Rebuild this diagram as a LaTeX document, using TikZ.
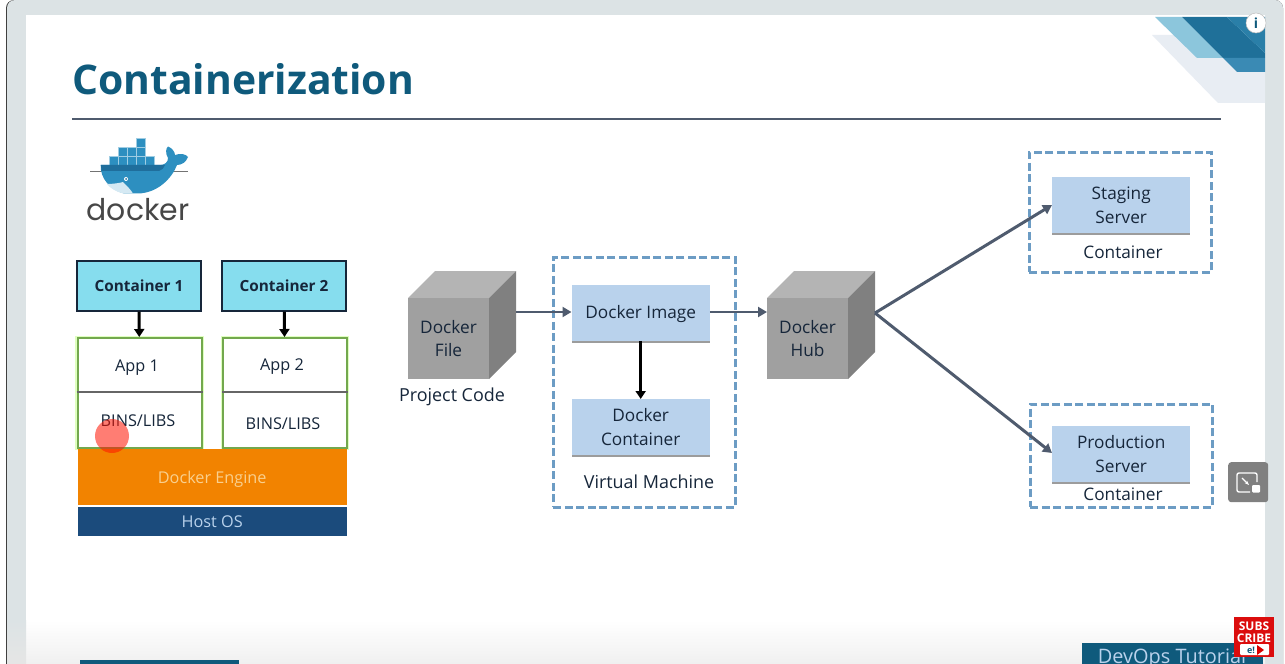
\documentclass[tikz,border=0pt]{standalone}
\usepackage{fontspec}
\setmainfont{Open Sans}
\newfontfamily\logofont{Poppins}
\usetikzlibrary{arrows.meta,shadows}
\definecolor{framec}{HTML}{DCE3E5}
\definecolor{titleblue}{HTML}{0F5A7C}
\definecolor{ink}{HTML}{16263A}
\definecolor{cyanbox}{HTML}{86DDEE}
\definecolor{greenb}{HTML}{73A84E}
\definecolor{orangeb}{HTML}{F28300}
\definecolor{navy}{HTML}{1B4B7C}
\definecolor{lblue}{HTML}{B9D2EC}
\definecolor{dashb}{HTML}{6C9CC4}
\definecolor{arrowc}{HTML}{4F5B6E}
\definecolor{cubef}{HTML}{A0A0A0}
\definecolor{cubet}{HTML}{B4B4B4}
\definecolor{cubes}{HTML}{808080}
\definecolor{whale}{HTML}{2D8FC0}
\definecolor{whaled}{HTML}{1F6E9C}
\definecolor{decolight}{HTML}{8CC6DC}
\definecolor{decomid}{HTML}{1F7099}
\definecolor{decodark}{HTML}{2A7FA8}
\definecolor{decolow}{HTML}{3A8AB4}
\definecolor{decogrey}{HTML}{E8EDF3}
\definecolor{enginetext}{HTML}{F9D08F}
\tikzset{
 x=1bp,y=-1bp,
 lab/.style={font=\fontsize{17.3}{20}\selectfont,text=ink,align=center,inner sep=0pt},
 applab/.style={font=\fontsize{16.3}{20}\selectfont,text=ink,align=center,inner sep=0pt},
 widelab/.style={font=\fontsize{18}{20}\selectfont,text=ink,align=center,inner sep=0pt},
 cbox/.style={draw=ink,line width=1.4pt,fill=cyanbox,font=\bfseries\fontsize{15.4}{18}\selectfont,text=ink,minimum width=124bp,minimum height=50bp,inner sep=0pt,anchor=north west},
 appbox/.style={draw=greenb,line width=2.1pt,fill=white,preaction={draw=green!50!yellow!25,line width=4.5bp},minimum width=124bp,minimum height=110bp,inner sep=0pt,anchor=north west},
 bluebox/.style={fill=lblue,minimum width=138bp,minimum height=55.5bp,inner sep=0pt,anchor=north west,align=center,font=\fontsize{17.3}{24}\selectfont,text=ink,drop shadow={shadow xshift=0pt,shadow yshift=-2.5bp,fill=black!55,opacity=.7}},
 dashbox/.style={draw=dashb,line width=2.7pt,dash pattern=on 8bp off 3.5bp,inner sep=0pt,anchor=north west},
 blackarrow/.style={draw=black,line width=3pt,-{Triangle[length=8bp,width=10bp]}},
 greyarrow/.style={draw=arrowc,line width=3pt,-{Triangle[length=9bp,width=10bp]}},
 cubelab/.style={font=\fontsize{17.3}{24}\selectfont,text=ink,align=center,inner sep=0pt},
 stackbar/.style={inner sep=0pt,minimum width=269bp,anchor=north west,font=\fontsize{16.3}{20}\selectfont},
}
\newcommand{\cube}[4]{%
 \fill[cubet] (#2,#3) -- (#2+27,#3-27) -- (#2+108,#3-27) -- (#2+81,#3) -- cycle;
 \fill[cubes] (#2+81,#3) -- (#2+108,#3-27) -- (#2+108,#3+54) -- (#2+81,#3+81) -- cycle;
 \node[fill=cubef,minimum width=81bp,minimum height=81bp,inner sep=0pt,anchor=north west,outer sep=0pt,cubelab] (#1) at (#2,#3) {#4};
 \coordinate (#1-e) at (#2+108,#3+14);
 \coordinate (#1-w) at (#2,#3+14);
}
\newcommand{\crate}[2]{\draw[fill=whale,draw=whale!45!white,line width=.6pt] (#1,#2) rectangle ++(9.2,9);}
\begin{document}
\begin{tikzpicture}
\useasboundingbox (0,0) rectangle (1285,664);
\fill[white] (0,0) rectangle (1285,664);
% frame and slide
\fill[black!75,rounded corners=8bp] (6,0) rectangle (1283,680);
\fill[framec,rounded corners=8bp] (7,0) rectangle (1283,680);
\fill[white] (26,15) rectangle (1265,664);
\shade[top color=white,bottom color=black!6] (26,620) rectangle (1265,664);
\shade[top color=framec,bottom color=black!10] (7,620) rectangle (26,664);
% corner decoration
\fill[decogrey] (1152,35) -- (1265,35) -- (1265,103) -- (1218,103) -- cycle;
\fill[decolight] (1155,17) -- (1182,17) -- (1223,58) -- (1197,58) -- cycle;
\fill[decomid] (1182,17) -- (1227,17) -- (1265,53) -- (1265,58) -- (1223,58) -- cycle;
\fill[decolow] (1223,58) -- (1265,58) -- (1265,72) -- (1237,72) -- cycle;
\fill[decodark] (1227,17) -- (1265,17) -- (1265,53) -- cycle;
\node[circle,fill=white,draw=black!25,line width=.5pt,minimum size=20bp,inner sep=0pt,font=\bfseries\fontsize{14}{14}\selectfont,text=titleblue] (info) at (1256,23) {i};
% title
\node[anchor=west,inner sep=0pt,font=\bfseries\fontsize{41}{46}\selectfont,text=titleblue] (title) at (72,79) {Containerization};
\draw[line width=1.2pt,draw=arrowc] (72,119) -- (1221,119);
% docker logo
\draw[black!55,line width=.9pt] (90,171.7) -- (188,171.7);
\crate{136}{138}
\crate{118}{147}\crate{127}{147}\crate{136}{147}
\crate{109}{156}\crate{118}{156}\crate{127}{156}\crate{136}{156}\crate{145}{156}
\fill[whale] (100.7,165) -- (160,165) .. controls (165,165) and (168,162) .. (168,158)
  .. controls (165,153) and (166,148) .. (168,146.5) .. controls (172,148) and (175,152) .. (175,155)
  .. controls (180,153) and (186,154) .. (188,157) .. controls (186,162) and (182,165) .. (177,165)
  .. controls (172,178) and (158,193) .. (138,193.5) -- (124,193.5)
  .. controls (110,190) and (100,178) .. (100.7,165) -- cycle;
\fill[whaled] (101,165) -- (165,165) .. controls (164,168) and (162,170) .. (159,171) -- (101.5,171) -- cycle;
\fill[white!80!whale] (107,184) .. controls (113,184) and (120,183) .. (123,182) .. controls (127,186) and (131,190) .. (133,193.5) -- (124,193.5) .. controls (116,192) and (110,188) .. (107,184) -- cycle;
\fill[white] (126,179) circle (2bp);
\fill[whaled] (126,179) circle (1bp);
\node[anchor=base,inner sep=0pt,font=\logofont\fontsize{30}{30}\selectfont,text=black!72] (dockerlogo) at (138,220.5) {docker};
% left stack
\node[cbox] (c1) at (76.3,260.3) {Container 1};
\node[cbox] (c2) at (221.3,260.3) {Container 2};
\node[appbox] (app1) at (76.5,337) {};
\node[appbox] (app2) at (222,337) {};
\draw[black!60,line width=1.2pt] (app1.west |- 0,392) -- (app1.east |- 0,392);
\draw[black!60,line width=1.2pt] (app2.west |- 0,392) -- (app2.east |- 0,392);
\node[applab] (a1t) at (137,368) {App 1};
\node[applab] (a2t) at (282,367) {App 2};
\node[applab] (b1t) at (138,421) {BINS/LIBS};
\node[applab] (b2t) at (283,424) {BINS/LIBS};
\node[stackbar,fill=orangeb,minimum height=56bp,text=enginetext] (engine) at (77.5,449) {\raisebox{-6pt}[0pt][0pt]{Docker Engine}};
\node[stackbar,fill=navy,minimum height=29bp,text=lblue] (host) at (77.5,507) {Host OS};
\draw[blackarrow] (c1) -- (app1);
\draw[blackarrow] (c2) -- (app2);
\fill[red!85!orange,opacity=.55] (112,436) circle (17bp);
% centre row
\cube{file}{408}{298}{Docker\\File}
\cube{hub}{767}{298}{Docker\\Hub}
\node[widelab] (pc) at (452,397) {Project Code};
\node[dashbox,minimum width=182bp,minimum height=250bp] (vm) at (552,256) {};
\node[bluebox] (img) at (571.5,285) {\raisebox{-6pt}[0pt][0pt]{Docker Image}};
\node[bluebox] (cont) at (571.5,399) {Docker\\Container};
\node[widelab] (vmt) at (649,482) {Virtual Machine};
% right side
\node[dashbox,minimum width=182bp,minimum height=120bp] (stg) at (1028,151) {};
\node[bluebox] (staging) at (1052,177) {Staging\\Server};
\node[lab] (ct1) at (1123,252) {Container};
\node[dashbox,minimum width=182bp,minimum height=103bp] (prd) at (1029,403) {};
\node[bluebox] (prod) at (1052,426) {Production\\Server};
\node[lab] (ct2) at (1123,494) {Container};
% connectors
\draw[greyarrow] (file-e) -- (img.west |- file-e);
\draw[greyarrow] (img.east |- hub-w) -- (hub-w);
\draw[blackarrow] (img) -- (cont);
\coordinate (hubout) at (875,313);
\coordinate (stgin) at (1052,205);
\coordinate (prdin) at (1052,453);
\draw[greyarrow] (hubout) -- (stgin);
\draw[greyarrow] (hubout) -- (prdin);
% overlay widgets
\node[fill=black!50,rounded corners=3bp,minimum width=40bp,minimum height=40bp,inner sep=0pt,anchor=north west] (expand) at (1228,462) {};
\draw[white,line width=1.4pt,rounded corners=2bp] (1257,482) -- (1257,473) -- (1237,473) -- (1237,492) -- (1250,492);
\draw[white,line width=1.4pt,-{Stealth[length=4.5bp]}] (1242,478) -- (1249,485);
\fill[white,rounded corners=1bp] (1252,485) rectangle (1260,492.5);
\node[fill=titleblue,minimum width=159bp,minimum height=4bp,inner sep=0pt,anchor=north west] (bottombar) at (80,660) {};
\begin{scope}
\clip (0,0) rectangle (1285,664);
\node[fill=titleblue,minimum width=181bp,minimum height=24bp,inner sep=0pt,anchor=north west] (tutbar) at (1082,643) {};
\node[anchor=base,inner sep=0pt,font=\fontsize{20}{20}\selectfont,text=lblue] (tut) at (1172,663.5) {DevOps Tutorial};
\end{scope}
\node[fill=red!85!black!95!white,minimum width=40bp,minimum height=40bp,inner sep=0pt,anchor=north west] (sub) at (1234,617) {};
\node[align=center,inner sep=0pt,text=white,font=\bfseries\fontsize{12}{11.5}\selectfont] (subt) at (1254,632) {SUBS\\CRIBE};
\fill[white,rounded corners=1bp] (1240,644) rectangle (1269,655);
\node[inner sep=0pt,text=titleblue,font=\bfseries\fontsize{9}{9}\selectfont] (el) at (1251,650) {e!};
\fill[red!85!black] (1257,645) -- (1264,650) -- (1257,655) -- cycle;
\end{tikzpicture}
\end{document}
